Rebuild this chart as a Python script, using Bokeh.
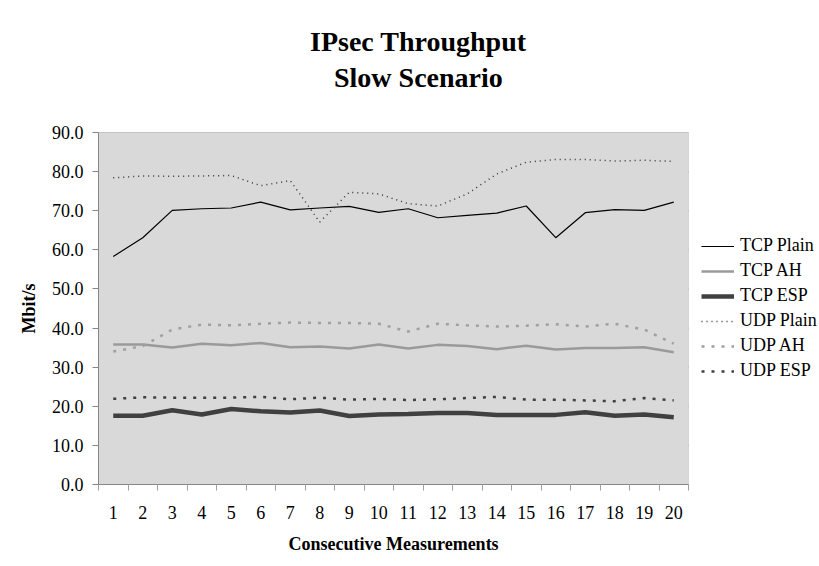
from bokeh.plotting import figure
from bokeh.models import (FixedTicker, NumeralTickFormatter, Range1d, Legend, LegendItem, Title, BoxAnnotation)
from bokeh.embed import file_html
from bokeh.resources import INLINE

# ---- data ----
measurements = list(range(1, 21))
tick_labels = [str(m) for m in measurements]
tcp_plain = [58.3, 63.1, 70.1, 70.5, 70.7, 72.2, 70.2, 70.7, 71.1, 69.6,
             70.5, 68.2, 68.8, 69.4, 71.2, 63.1, 69.5, 70.3, 70.1, 72.2]
tcp_ah = [35.8, 35.8, 35.0, 36.0, 35.6, 36.2, 35.1, 35.3, 34.8, 35.8,
          34.8, 35.7, 35.4, 34.6, 35.5, 34.5, 34.9, 34.9, 35.1, 33.8]
tcp_esp = [17.6, 17.6, 19.0, 17.9, 19.3, 18.7, 18.4, 18.9, 17.5, 17.9,
           18.0, 18.3, 18.3, 17.8, 17.8, 17.8, 18.5, 17.6, 17.9, 17.2]
udp_plain = [78.4, 78.9, 78.8, 78.9, 79.0, 76.4, 77.7, 67.1, 74.7, 74.3,
             71.8, 71.2, 74.3, 79.4, 82.4, 83.1, 83.1, 82.7, 82.9, 82.6]
udp_ah = [34.0, 35.4, 39.6, 40.9, 40.7, 41.1, 41.4, 41.3, 41.3, 41.1,
          39.1, 41.1, 40.7, 40.4, 40.6, 41.0, 40.4, 41.1, 39.6, 36.0]
udp_esp = [21.9, 22.3, 22.2, 22.2, 22.2, 22.4, 21.8, 22.2, 21.7, 21.9,
           21.6, 21.8, 22.1, 22.4, 21.7, 21.7, 21.5, 21.3, 22.1, 21.5]
y_ticks = [0, 10, 20, 30, 40, 50, 60, 70, 80, 90]
title_lines = ["IPsec Throughput", "Slow Scenario"]
x_title = "Consecutive Measurements"
y_title = "Mbit/s"

SERIF = "Liberation Serif"

# category bins: measurement m occupies [m-0.5, m+0.5]
x_lo = measurements[0] - 0.5
x_hi = measurements[-1] + 0.5
y_lo, y_hi = y_ticks[0], y_ticks[-1]

PLOT_W = 590          # pixel width of the grey plot area
FRAME_W = 721         # frame extends to the right edge (legend lives there)
x_end = x_lo + (x_hi - x_lo) * FRAME_W / PLOT_W

p = figure(width=819, height=566, output_backend="svg", toolbar_location=None, title=None,
           x_range=Range1d(x_lo, x_end), y_range=Range1d(y_lo, y_hi),
           min_border_left=98, min_border_right=0, min_border_top=132, min_border_bottom=82)
p.background_fill_color = "white"
p.border_fill_color = "white"
p.outline_line_color = None

# grey plotting area
p.add_layout(BoxAnnotation(left=x_lo, right=x_hi, bottom=y_lo, top=y_hi,
                           fill_color="#d9d9d9", fill_alpha=1.0,
                           line_color="#a0a0a0", line_width=1, level="underlay"))

# grid (horizontal lines only across the grey area)
p.xgrid.grid_line_color = None
p.ygrid.grid_line_color = None
p.segment(x0=[x_lo] * len(y_ticks), y0=y_ticks, x1=[x_hi] * len(y_ticks), y1=y_ticks,
          line_color="#8c8c8c", line_width=1, level="underlay")

# axes
p.xaxis.ticker = FixedTicker(ticks=measurements,
                             minor_ticks=[m - 0.5 for m in measurements] + [x_hi])
p.xaxis.bounds = (x_lo, x_hi)
p.xaxis.major_label_overrides = {m: lab for m, lab in zip(measurements, tick_labels)}
p.xaxis.major_tick_line_color = None
p.xaxis.major_tick_out = 6
p.xaxis.major_tick_in = 0
p.xaxis.minor_tick_line_color = "#a0a0a0"
p.xaxis.minor_tick_out = 6
p.xaxis.minor_tick_in = 0
p.xaxis.major_label_standoff = 15

p.yaxis.ticker = FixedTicker(ticks=y_ticks)
p.yaxis.formatter = NumeralTickFormatter(format="0.0")
p.yaxis.major_tick_line_color = "#868686"
p.yaxis.major_tick_out = 6
p.yaxis.major_tick_in = 0
p.yaxis.minor_tick_line_color = None
p.yaxis.major_label_standoff = 9
p.yaxis.axis_label = y_title
p.yaxis.axis_label_standoff = 10

for ax in (p.xaxis[0], p.yaxis[0]):
    ax.axis_line_color = "#868686"
    ax.major_label_text_font = SERIF
    ax.major_label_text_font_size = "18px"
    ax.major_label_text_color = "black"
    ax.axis_label_text_font = SERIF
    ax.axis_label_text_font_size = "18px"
    ax.axis_label_text_font_style = "bold"
    ax.axis_label_text_color = "black"

# series
r1 = p.line(measurements, tcp_plain, line_color="black", line_width=1.2, line_join="round")
r2 = p.line(measurements, tcp_ah, line_color="#9a9a9a", line_width=2.5, line_join="round")
r3 = p.line(measurements, tcp_esp, line_color="#404040", line_width=4.5, line_join="round")
r4 = p.line(measurements, udp_plain, line_color="#333333", line_width=1.5, line_dash="1 4")
r5 = p.line(measurements, udp_ah, line_color="#a0a0a0", line_width=2.5, line_dash="3 7")
r6 = p.line(measurements, udp_esp, line_color="#404040", line_width=2.5, line_dash="3 7")

legend = Legend(items=[
    LegendItem(label="TCP Plain", renderers=[r1]),
    LegendItem(label="TCP AH", renderers=[r2]),
    LegendItem(label="TCP ESP", renderers=[r3]),
    LegendItem(label="UDP Plain", renderers=[r4]),
    LegendItem(label="UDP AH", renderers=[r5]),
    LegendItem(label="UDP ESP", renderers=[r6]),
], location=(603, 103))
legend.label_text_font = SERIF
legend.label_text_font_size = "18px"
legend.label_text_color = "black"
legend.glyph_width = 33
legend.glyph_height = 20
legend.label_height = 20
legend.label_standoff = 6
legend.spacing = 4
legend.padding = 0
legend.margin = 0
legend.border_line_color = None
legend.background_fill_alpha = 0
p.add_layout(legend, "center")

# title: two lines stacked above the frame
t2 = Title(text=title_lines[1], align="left", text_font=SERIF, text_font_size="28px",
           text_font_style="bold", text_color="black", standoff=80, offset=235.5)
t1 = Title(text=title_lines[0], align="left", text_font=SERIF, text_font_size="28px",
           text_font_style="bold", text_color="black", standoff=-74, offset=211.5)
p.add_layout(t2, "above")
p.add_layout(t1, "above")

# x axis title, centred under the grey plot area
tx = Title(text=x_title, align="left", text_font=SERIF, text_font_size="18px",
           text_font_style="bold", text_color="black", standoff=20, offset=190)
p.add_layout(tx, "below")

open("out.html", "w").write(file_html(p, INLINE))
